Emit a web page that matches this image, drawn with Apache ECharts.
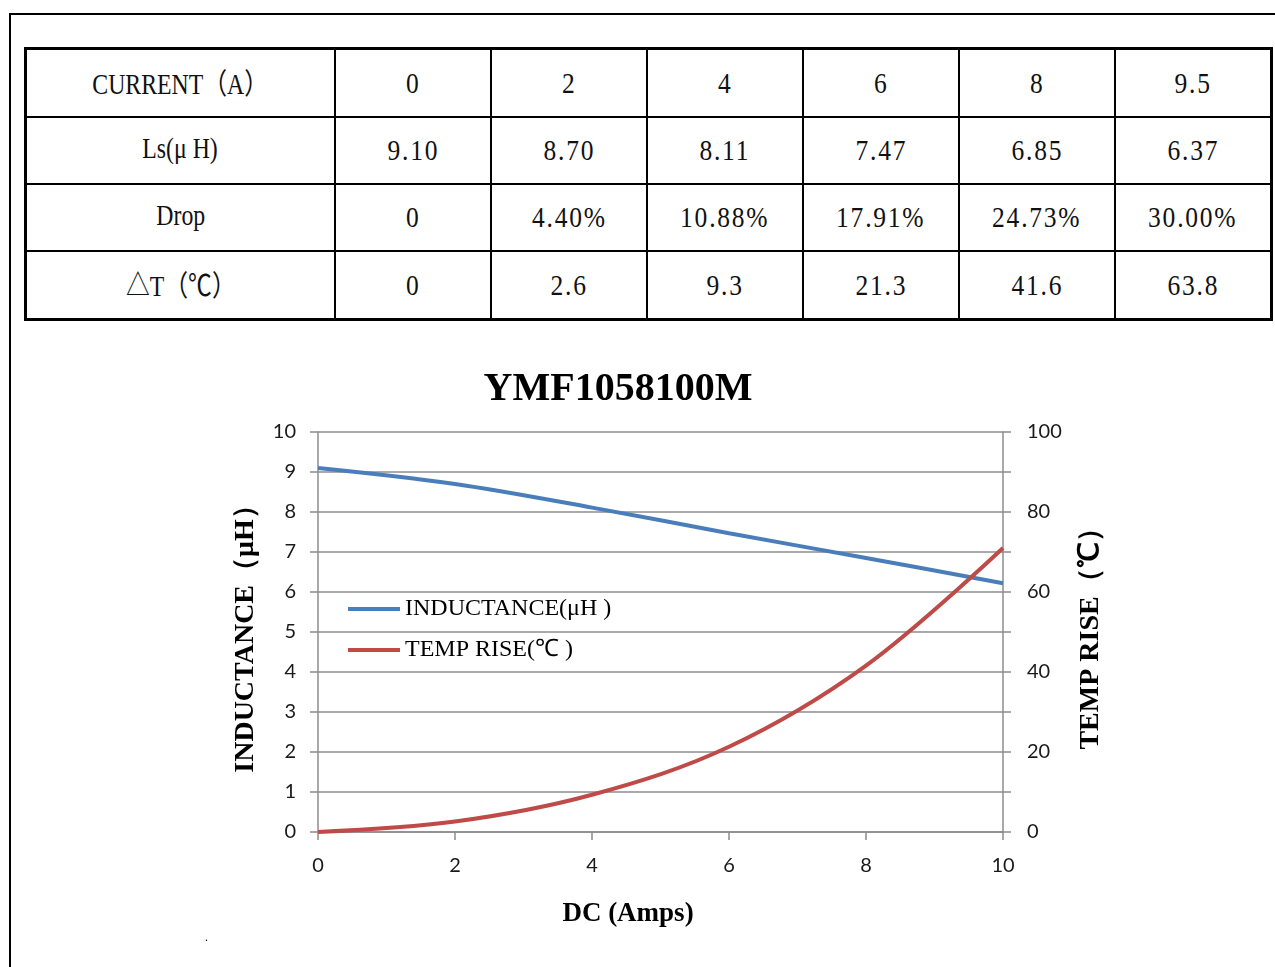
<!DOCTYPE html>
<html>
<head>
<meta charset="utf-8">
<script src="https://cdn.jsdelivr.net/npm/echarts@6/dist/echarts.min.js"></script>
<style>
  html, body { margin: 0; padding: 0; background: #fff; width: 1275px; height: 967px; overflow: hidden; }
  #frame { position: absolute; left: 9px; top: 13px; width: 1275px; height: 960px; border-top: 2px solid #000; border-left: 2px solid #000; }
  #chart { position: absolute; left: 0; top: 0; width: 1275px; height: 967px; }
  #tbl { position: absolute; left: 24px; top: 47px; width: 1249px; height: 274px; box-sizing: border-box;
         border: 3px solid #000; background: #000; display: grid;
         grid-template-columns: 307px repeat(6, 154px); grid-template-rows: 66px 65px 65px 66px; gap: 2px; }
  .cell { background: #fff; display: flex; align-items: center; justify-content: center;
          font-family: "Liberation Serif", "Noto Sans CJK SC", serif; font-size: 29px; color: #111; }
  .cell span { display: inline-block; transform: scaleX(0.88); letter-spacing: 2px; }
  .head span { transform: scaleX(0.82); letter-spacing: 0; position: relative; top: -2px; }
  #dot { position: absolute; left: 205px; top: 930px; font-size: 12px; font-family: "Liberation Serif"; }
</style>
</head>
<body>
<div id="frame"></div>
<div id="chart"></div>
<div id="tbl"></div>
<span id="dot">.</span>
<script>
// ---- table data ----
var rowHeads = ['CURRENT（A）', 'Ls(μ H)', 'Drop', '△T（℃）'];
var tableCurrent = ['0', '2', '4', '6', '8', '9.5'];
var tableLs = ['9.10', '8.70', '8.11', '7.47', '6.85', '6.37'];
var tableDrop = ['0', '4.40%', '10.88%', '17.91%', '24.73%', '30.00%'];
var tableDT = ['0', '2.6', '9.3', '21.3', '41.6', '63.8'];

// ---- chart data ----
var chartTitle = 'YMF1058100M';
var xCurrent = [0, 2, 4, 6, 8, 10];
var inductance = [9.10, 8.70, 8.11, 7.47, 6.85, 6.22];
var tempRise = [0, 2.6, 9.3, 21.3, 41.6, 71];
var seriesNames = ['INDUCTANCE(μH )', 'TEMP RISE(℃ )'];
var xName = 'DC (Amps)';
var yLeftName = 'INDUCTANCE（μH）';
var yRightName = 'TEMP RISE（℃）';

// build table
var tbl = document.getElementById('tbl');
var rows = [tableCurrent, tableLs, tableDrop, tableDT];
function addCell(text, cls) {
  var c = document.createElement('div');
  c.className = cls;
  var s = document.createElement('span');
  s.textContent = text;
  c.appendChild(s);
  tbl.appendChild(c);
}
rows.forEach(function (r, i) {
  addCell(rowHeads[i], 'cell head');
  r.forEach(function (v) { addCell(v, 'cell'); });
});

function pairs(xs, ys) { return xs.map(function (x, i) { return [x, ys[i]]; }); }

var gray = '#8c8c8c';
var tickFont = { fontFamily: 'Lato', fontSize: 20, color: '#1a1a1a' };
var nameFont = { fontFamily: 'Liberation Serif', fontWeight: 'bold', fontSize: 28, color: '#000' };

var chart = echarts.init(document.getElementById('chart'), null, { renderer: 'canvas' });
chart.setOption({
  backgroundColor: 'transparent',
  animation: false,
  title: {
    text: chartTitle, left: 613, top: 365, textAlign: 'center',
    textStyle: { fontFamily: 'Liberation Serif', fontWeight: 'bold', fontSize: 40, color: '#000' }
  },
  legend: {
    orient: 'vertical', left: 343, top: 592, itemGap: 17,
    itemWidth: 52, itemHeight: 4, icon: 'rect',
    textStyle: { fontFamily: 'Liberation Serif', fontSize: 24, color: '#000' },
    data: seriesNames
  },
  grid: { left: 318, right: 272, top: 432, bottom: 135, containLabel: false },
  xAxis: {
    type: 'value', min: 0, max: 10, interval: 2,
    name: xName, nameLocation: 'middle', nameGap: 69,
    nameTextStyle: Object.assign({}, nameFont, { fontSize: 27, padding: [0, 65, 0, 0] }),
    axisLine: { show: true, lineStyle: { color: gray, width: 1.5 } },
    axisTick: { show: true, inside: false, length: 8, lineStyle: { color: gray, width: 1.5 } },
    axisLabel: Object.assign({ margin: 24 }, tickFont),
    splitLine: { show: false }
  },
  yAxis: [{
    type: 'value', min: 0, max: 10, interval: 1, position: 'left',
    name: yLeftName, nameLocation: 'middle', nameRotate: 90, nameGap: 58,
    nameTextStyle: nameFont,
    axisLine: { show: true, lineStyle: { color: gray, width: 1.5 } },
    axisTick: { show: true, inside: false, length: 8, lineStyle: { color: gray, width: 1.5 } },
    axisLabel: Object.assign({ margin: 22 }, tickFont),
    splitLine: { show: true, lineStyle: { color: gray, width: 1.5 } }
  }, {
    type: 'value', min: 0, max: 100, interval: 10, position: 'right',
    name: yRightName, nameLocation: 'middle', nameRotate: 90, nameGap: 74,
    nameTextStyle: nameFont,
    axisLine: { show: true, lineStyle: { color: gray, width: 1.5 } },
    axisTick: { show: true, inside: false, length: 8, lineStyle: { color: gray, width: 1.5 } },
    axisLabel: Object.assign({ margin: 24, formatter: function (v) { return v % 20 === 0 ? String(v) : ''; } }, tickFont),
    splitLine: { show: false }
  }],
  series: [{
    name: seriesNames[0], type: 'line', yAxisIndex: 0, smooth: 0.35,
    showSymbol: false, data: pairs(xCurrent, inductance),
    lineStyle: { color: '#4a7ebb', width: 4 }, itemStyle: { color: '#4a7ebb' }
  }, {
    name: seriesNames[1], type: 'line', yAxisIndex: 1, smooth: 0.35,
    showSymbol: false, data: pairs(xCurrent, tempRise),
    lineStyle: { color: '#be4b48', width: 4 }, itemStyle: { color: '#be4b48' }
  }]
});
</script>
</body>
</html>
